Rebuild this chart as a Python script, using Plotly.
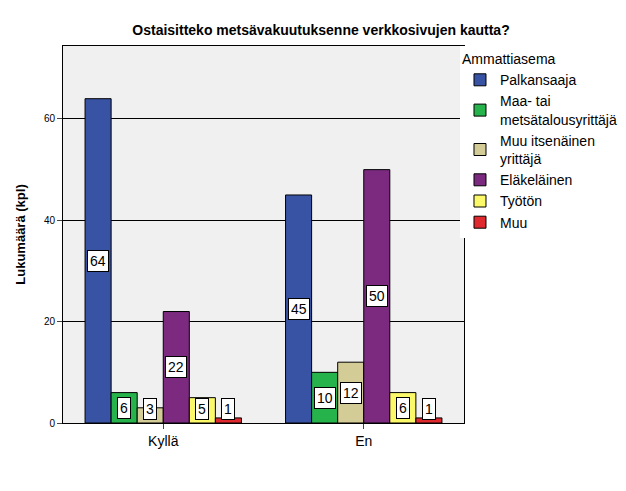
import plotly.graph_objects as go

categories = ["Kyllä", "En"]
groups = ["Palkansaaja", "Maa- tai<br>metsätalousyrittäjä", "Muu itsenäinen<br>yrittäjä",
          "Eläkeläinen", "Työtön", "Muu"]
values = [
    [64, 45],
    [6, 10],
    [3, 12],
    [22, 50],
    [5, 6],
    [1, 1],
]
colors = ["#3953a4", "#27b34b", "#d4cc96", "#7b2a7f", "#fbf969", "#e0292f"]

fig = go.Figure()
bargap = 0.22
bw = (1 - bargap) / len(groups)
for i, (g, vals, c) in enumerate(zip(groups, values, colors)):
    fig.add_trace(go.Bar(x=[0, 1], y=vals, name=g, marker=dict(color=c, line=dict(color="black", width=1))))
    for j, v in enumerate(vals):
        fig.add_annotation(
            x=j - (1 - bargap) / 2 + bw * (i + 0.5), y=max(v / 2, 2.8), text=str(v),
            showarrow=False, bgcolor="white", bordercolor="black", borderwidth=1,
            borderpad=2, font=dict(size=14, color="black"),
        )

fig.update_layout(
    barmode="group", bargap=bargap, bargroupgap=0,
    width=626, height=491,
    paper_bgcolor="white", plot_bgcolor="#f0f0f0",
    font=dict(family="Arial, Liberation Sans, sans-serif", color="black"),
    title=dict(text="<b>Ostaisitteko metsävakuutuksenne verkkosivujen kautta?</b>",
               x=0.5, xanchor="center", y=0.965, font=dict(size=14)),
    margin=dict(l=51, r=166, t=38, b=76),
    legend=dict(title=dict(text="Ammattiasema", font=dict(size=14)), x=0.99, y=1, yanchor="top",
                font=dict(size=14), tracegroupgap=0, itemwidth=30),
    showlegend=True,
)
fig.update_xaxes(tickvals=[0, 1], ticktext=categories, range=[-0.5, 1.5],
                 showline=True, linecolor="black", mirror=True, ticks="outside",
                 tickfont=dict(size=14))
fig.update_yaxes(range=[0, 74.4], tickvals=[0, 20, 40, 60], showgrid=True, gridcolor="black",
                 gridwidth=1, showline=True, linecolor="black", mirror=True, ticks="outside",
                 tickfont=dict(size=10), zeroline=False,
                 title=dict(text="<b>Lukumäärä (kpl)</b>", font=dict(size=13)))

fig.write_html("out.html")
